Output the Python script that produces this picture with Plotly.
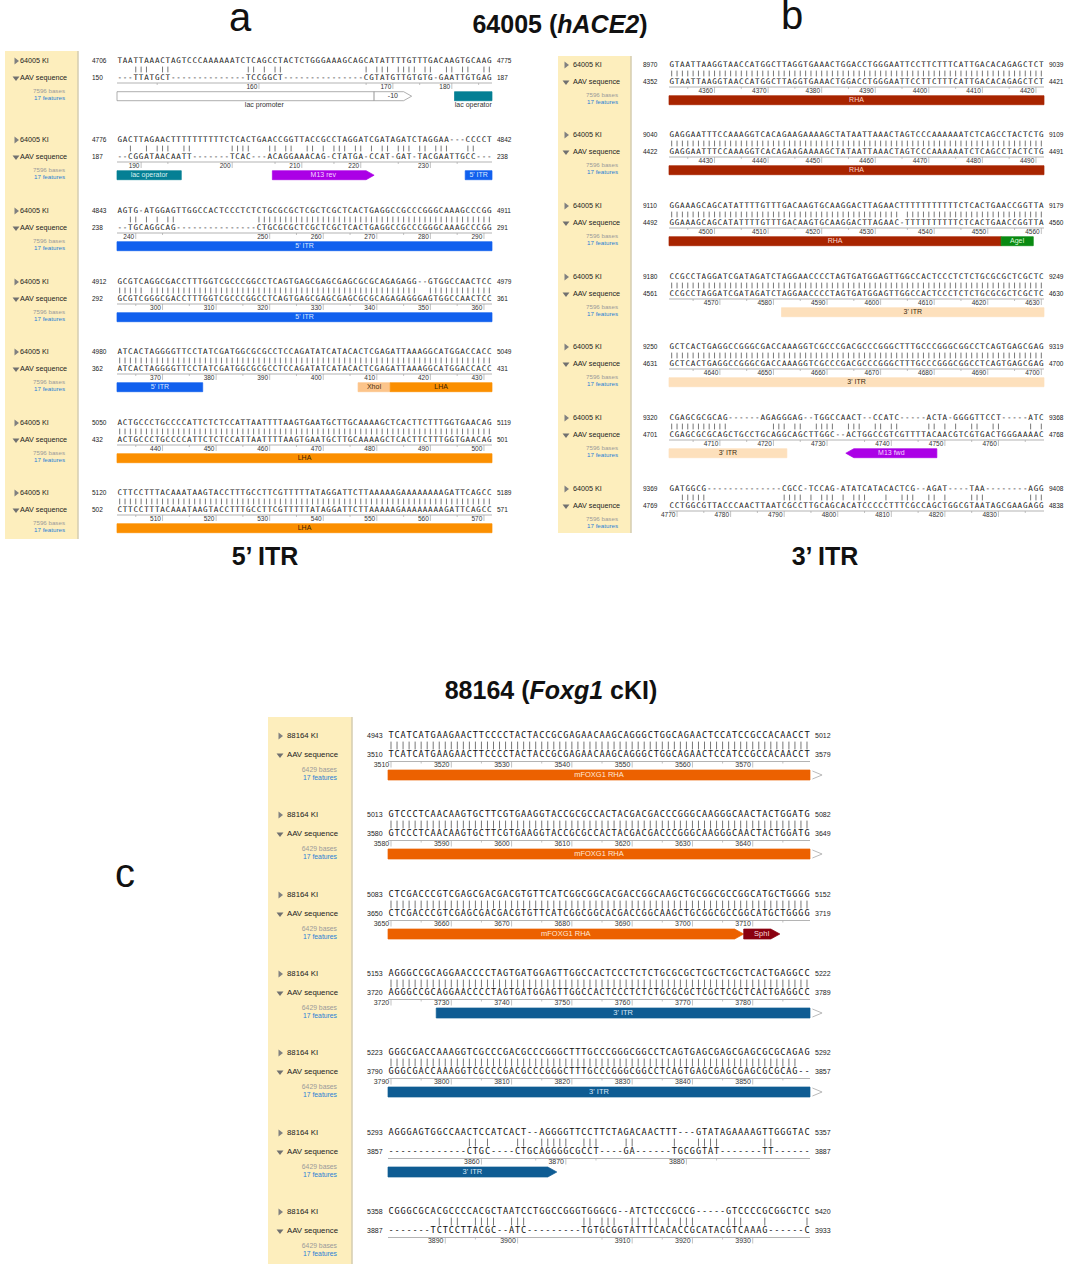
"""Recreate the aligned AAV sequence figure with Plotly."""

from __future__ import annotations

import plotly.graph_objects as go

# panel a: 64005 KI against the AAV sequence, 5' ITR end
A_QUERY = [
    "TAATTAAACTAGTCCCAAAAAATCTCAGCCTACTCTGGGAAAGCAGCATATTTTGTTTGACAAGTGCAAG",
    "GACTTAGAACTTTTTTTTTTCTCACTGAACCGGTTACCGCCTAGGATCGATAGATCTAGGAA---CCCCT",
    "AGTG-ATGGAGTTGGCCACTCCCTCTCTGCGCGCTCGCTCGCTCACTGAGGCCGCCCGGGCAAAGCCCGG",
    "GCGTCAGGCGACCTTTGGTCGCCCGGCCTCAGTGAGCGAGCGAGCGCGCAGAGAGG--GTGGCCAACTCC",
    "ATCACTAGGGGTTCCTATCGATGGCGCGCCTCCAGATATCATACACTCGAGATTAAAGGCATGGACCACC",
    "ACTGCCCTGCCCCATTCTCTCCATTAATTTTAAGTGAATGCTTGCAAAAGCTCACTTCTTTGGTGAACAG",
    "CTTCCTTTACAAATAAGTACCTTTGCCTTCGTTTTTATAGGATTCTTAAAAAGAAAAAAAAGATTCAGCC",
]
A_SUBJECT = [
    "---TTATGCT--------------TCCGGCT---------------CGTATGTTGTGTG-GAATTGTGAG",
    "--CGGATAACAATT-------TCAC---ACAGGAAACAG-CTATGA-CCAT-GAT-TACGAATTGCC---",
    "--TGCAGGCAG---------------CTGCGCGCTCGCTCGCTCACTGAGGCCGCCCGGGCAAAGCCCGG",
    "GCGTCGGGCGACCTTTGGTCGCCCGGCCTCAGTGAGCGAGCGAGCGCGCAGAGAGGGAGTGGCCAACTCC",
    "ATCACTAGGGGTTCCTATCGATGGCGCGCCTCCAGATATCATACACTCGAGATTAAAGGCATGGACCACC",
    "ACTGCCCTGCCCCATTCTCTCCATTAATTTTAAGTGAATGCTTGCAAAAGCTCACTTCTTTGGTGAACAG",
    "CTTCCTTTACAAATAAGTACCTTTGCCTTCGTTTTTATAGGATTCTTAAAAAGAAAAAAAAGATTCAGCC",
]
A_QUERY_START = [4706, 4776, 4843, 4912, 4980, 5050, 5120]
A_QUERY_END = [4775, 4842, 4911, 4979, 5049, 5119, 5189]
A_SUBJECT_START = [150, 187, 238, 292, 362, 432, 502]
A_SUBJECT_END = [187, 238, 291, 361, 431, 501, 571]
# block, label, first column, last column, colour, shape, label colour
A_FEATURES = [
    (0, "", 0, 48, "#ffffff", "box", "#333333"),
    (0, "-10", 48, 55, "#ffffff", "right", "#333333"),
    (0, "", 63, 70, "#047f94", "box", "#ffffff"),
    (1, "lac operator", 0, 12, "#047f94", "box", "#d8f0f0"),
    (1, "M13 rev", 29, 48, "#ab00e6", "right", "#f4d8ff"),
    (1, "5' ITR", 65, 70, "#1160ee", "box", "#dce8ff"),
    (2, "5' ITR", 0, 70, "#1160ee", "box", "#dce8ff"),
    (3, "5' ITR", 0, 70, "#1160ee", "box", "#dce8ff"),
    (4, "5' ITR", 0, 16, "#1160ee", "box", "#dce8ff"),
    (4, "XhoI", 45, 51, "#fcc48a", "box", "#4a3010"),
    (4, "LHA", 51, 70, "#fb8f00", "box", "#3a2000"),
    (5, "LHA", 0, 70, "#fb8f00", "box", "#3a2000"),
    (6, "LHA", 0, 70, "#fb8f00", "box", "#3a2000"),
]
# captions written under a feature: block, label, centre column
A_CAPTIONS = [(0, "lac promoter", 27.5), (0, "lac operator", 66.5)]

# panel b: 64005 KI against the AAV sequence, 3' ITR end
B_QUERY = [
    "GTAATTAAGGTAACCATGGCTTAGGTGAAACTGGACCTGGGAATTCCTTCTTTCATTGACACAGAGCTCT",
    "GAGGAATTTCCAAAGGTCACAGAAGAAAAGCTATAATTAAACTAGTCCCAAAAAATCTCAGCCTACTCTG",
    "GGAAAGCAGCATATTTTGTTTGACAAGTGCAAGGACTTAGAACTTTTTTTTTTTCTCACTGAACCGGTTA",
    "CCGCCTAGGATCGATAGATCTAGGAACCCCTAGTGATGGAGTTGGCCACTCCCTCTCTGCGCGCTCGCTC",
    "GCTCACTGAGGCCGGGCGACCAAAGGTCGCCCGACGCCCGGGCTTTGCCCGGGCGGCCTCAGTGAGCGAG",
    "CGAGCGCGCAG------AGAGGGAG--TGGCCAACT--CCATC-----ACTA-GGGGTTCCT-----ATC",
    "GATGGCG--------------CGCC-TCCAG-ATATCATACACTCG--AGAT----TAA--------AGG",
]
B_SUBJECT = [
    "GTAATTAAGGTAACCATGGCTTAGGTGAAACTGGACCTGGGAATTCCTTCTTTCATTGACACAGAGCTCT",
    "GAGGAATTTCCAAAGGTCACAGAAGAAAAGCTATAATTAAACTAGTCCCAAAAAATCTCAGCCTACTCTG",
    "GGAAAGCAGCATATTTTGTTTGACAAGTGCAAGGACTTAGAAC-TTTTTTTTTTCTCACTGAACCGGTTA",
    "CCGCCTAGGATCGATAGATCTAGGAACCCCTAGTGATGGAGTTGGCCACTCCCTCTCTGCGCGCTCGCTC",
    "GCTCACTGAGGCCGGGCGACCAAAGGTCGCCCGACGCCCGGGCTTTGCCCGGGCGGCCTCAGTGAGCGAG",
    "CGAGCGCGCAGCTGCCTGCAGGCAGCTTGGC--ACTGGCCGTCGTTTTACAACGTCGTGACTGGGAAAAC",
    "CCTGGCGTTACCCAACTTAATCGCCTTGCAGCACATCCCCCTTTCGCCAGCTGGCGTAATAGCGAAGAGG",
]
B_QUERY_START = [8970, 9040, 9110, 9180, 9250, 9320, 9369]
B_QUERY_END = [9039, 9109, 9179, 9249, 9319, 9368, 9408]
B_SUBJECT_START = [4352, 4422, 4492, 4561, 4631, 4701, 4769]
B_SUBJECT_END = [4421, 4491, 4560, 4630, 4700, 4768, 4838]
B_FEATURES = [
    (0, "RHA", 0, 70, "#a82400", "box", "#f8d8d0"),
    (1, "RHA", 0, 70, "#a82400", "box", "#f8d8d0"),
    (2, "RHA", 0, 62, "#a82400", "box", "#f8d8d0"),
    (2, "AgeI", 62, 68, "#0a8a12", "box", "#d8f8d8"),
    (3, "3' ITR", 21, 70, "#fde0bc", "box", "#3a2a10"),
    (4, "3' ITR", 0, 70, "#fde0bc", "box", "#3a2a10"),
    (5, "3' ITR", 0, 22, "#fde0bc", "box", "#3a2a10"),
    (5, "M13 fwd", 33, 50, "#ab00e6", "left", "#f4d8ff"),
]

# panel c: 88164 KI against the AAV sequence
C_QUERY = [
    "TCATCATGAAGAACTTCCCCTACTACCGCGAGAACAAGCAGGGCTGGCAGAACTCCATCCGCCACAACCT",
    "GTCCCTCAACAAGTGCTTCGTGAAGGTACCGCGCCACTACGACGACCCGGGCAAGGGCAACTACTGGATG",
    "CTCGACCCGTCGAGCGACGACGTGTTCATCGGCGGCACGACCGGCAAGCTGCGGCGCCGGCATGCTGGGG",
    "AGGGCCGCAGGAACCCCTAGTGATGGAGTTGGCCACTCCCTCTCTGCGCGCTCGCTCGCTCACTGAGGCC",
    "GGGCGACCAAAGGTCGCCCGACGCCCGGGCTTTGCCCGGGCGGCCTCAGTGAGCGAGCGAGCGCGCAGAG",
    "AGGGAGTGGCCAACTCCATCACT--AGGGGTTCCTTCTAGACAACTTT---GTATAGAAAAGTTGGGTAC",
    "CGGGCGCACGCCCCACGCTAATCCTGGCCGGGTGGGCG--ATCTCCCGCCG-----GTCCCCGCGGCTCC",
]
C_SUBJECT = [
    "TCATCATGAAGAACTTCCCCTACTACCGCGAGAACAAGCAGGGCTGGCAGAACTCCATCCGCCACAACCT",
    "GTCCCTCAACAAGTGCTTCGTGAAGGTACCGCGCCACTACGACGACCCGGGCAAGGGCAACTACTGGATG",
    "CTCGACCCGTCGAGCGACGACGTGTTCATCGGCGGCACGACCGGCAAGCTGCGGCGCCGGCATGCTGGGG",
    "AGGGCCGCAGGAACCCCTAGTGATGGAGTTGGCCACTCCCTCTCTGCGCGCTCGCTCGCTCACTGAGGCC",
    "GGGCGACCAAAGGTCGCCCGACGCCCGGGCTTTGCCCGGGCGGCCTCAGTGAGCGAGCGAGCGCGCAG--",
    "-------------CTGC----CTGCAGGGGCGCCT----GA------TGCGGTAT-------TT------",
    "-------TCTCCTTACGC--ATC---------TGTGCGGTATTTCACACCGCATACGTCAAAG------C",
]
C_QUERY_START = [4943, 5013, 5083, 5153, 5223, 5293, 5358]
C_QUERY_END = [5012, 5082, 5152, 5222, 5292, 5357, 5420]
C_SUBJECT_START = [3510, 3580, 3650, 3720, 3790, 3857, 3887]
C_SUBJECT_END = [3579, 3649, 3719, 3789, 3857, 3887, 3933]
C_FEATURES = [
    (0, "mFOXG1 RHA", 0, 70, "#ec6100", "box", "#ffe8d8"),
    (1, "mFOXG1 RHA", 0, 70, "#ec6100", "box", "#ffe8d8"),
    (2, "mFOXG1 RHA", 0, 59, "#ec6100", "right", "#ffe8d8"),
    (2, "SphI", 59, 65, "#8a0010", "right", "#f8d8d8"),
    (3, "3' ITR", 8, 70, "#0f5c93", "box", "#d8e8f8"),
    (4, "3' ITR", 0, 70, "#0f5c93", "box", "#d8e8f8"),
    (5, "3' ITR", 0, 28, "#0f5c93", "right", "#d8e8f8"),
]
C_CONTINUED = [0, 1, 3, 4]

SANS = "Liberation Sans"
MONO = "DejaVu Sans Mono"
WIDTH = 1065
HEIGHT = 1265


def first_base(start: int, subject: str) -> int:
    """A row opening on a gap is numbered by the base before the gap."""

    return start + 1 if subject.startswith("-") else start


def ruler_marks(start: int, subject: str) -> tuple[list[int], list[int], list[int]]:
    """Walk the subject row: return minor columns, major columns and their labels."""

    minor, major, labels = [], [], []
    pos = first_base(start, subject)
    for col, base in enumerate(subject):
        if base == "-":
            continue
        if pos % 10 == 0:
            major.append(col)
            labels.append(pos)
        elif pos % 5 == 0:
            minor.append(col)
        pos += 1
    return minor, major, labels


def text_trace(xs, ys, texts, axis, size, color, position="middle center", family=SANS):
    return go.Scatter(
        x=xs, y=ys, text=texts, xaxis=axis, yaxis="y", mode="text",
        textposition=position, textfont=dict(family=family, size=size, color=color),
        hoverinfo="skip", showlegend=False, cliponaxis=False,
    )


def line_trace(xs, ys, axis, color, width):
    return go.Scatter(
        x=xs, y=ys, xaxis=axis, yaxis="y", mode="lines",
        line=dict(color=color, width=width),
        hoverinfo="skip", showlegend=False,
    )


def feature_trace(start, end, top, bottom, color, shape, axis, head):
    mid = (top + bottom) / 2
    outline = "#8c8c8c" if color == "#ffffff" else color
    if shape == "right":
        xs = [start, end - head, end, end - head, start, start]
        ys = [top, top, mid, bottom, bottom, top]
    elif shape == "left":
        xs = [end, start + head, start, start + head, end, end]
        ys = [top, top, mid, bottom, bottom, top]
    else:
        xs = [start, end, end, start, start]
        ys = [top, top, bottom, bottom, top]
    return go.Scatter(
        x=xs, y=ys, xaxis=axis, yaxis="y", mode="lines", fill="toself", fillcolor=color,
        line=dict(color=outline, width=0.7), hoverinfo="skip", showlegend=False,
    )


def add_panel(fig, axis, query, subject, q_start, q_end, s_start, s_end, features, tops, opts):
    """Draw one alignment panel; columns run 0-70 on its own x axis."""

    # sidebar, on the page axis
    top_y, bottom_y = opts["side_y"]
    left, right = opts["side_x"]
    fig.add_trace(go.Scatter(
        x=[left, right, right, left, left], y=[top_y, top_y, bottom_y, bottom_y, top_y],
        xaxis="x4", yaxis="y", mode="lines", fill="toself", fillcolor="#fdeebd",
        line=dict(width=0), hoverinfo="skip", showlegend=False,
    ))
    fig.add_trace(line_trace([right, right], [top_y, bottom_y], "x4", "#d5cdb0", 1.5))

    seq2 = opts["seq2"]
    label_x = opts["label_x"]
    tri_x = opts["tri_x"]
    meta_x = opts["meta_x"]
    name = opts["name"]
    size = opts["label_size"]
    n = len(tops)
    fig.add_trace(go.Scatter(
        x=[tri_x] * n, y=tops, xaxis="x4", yaxis="y", mode="markers",
        marker=dict(symbol="triangle-right", size=6, color="#808080"),
        hoverinfo="skip", showlegend=False,
    ))
    fig.add_trace(go.Scatter(
        x=[tri_x] * n, y=[t + seq2 for t in tops], xaxis="x4", yaxis="y", mode="markers",
        marker=dict(symbol="triangle-down", size=6, color="#707070"),
        hoverinfo="skip", showlegend=False,
    ))
    fig.add_trace(text_trace([label_x] * n, tops, [name] * n, "x4", size, "#222222", "middle right"))
    fig.add_trace(text_trace(
        [label_x] * n, [t + seq2 for t in tops], ["AAV sequence"] * n, "x4", size, "#222222", "middle right",
    ))
    fig.add_trace(text_trace(
        [meta_x] * n, [t + opts["bases_dy"] for t in tops], [opts["bases"]] * n,
        "x4", size - 1, "#9a9a9a", "middle left",
    ))
    fig.add_trace(text_trace(
        [meta_x] * n, [t + opts["feat_dy"] for t in tops], ["17 features"] * n,
        "x4", size - 1, "#2a7fd6", "middle left",
    ))

    # row numbers
    num_size = opts["num_size"]
    fig.add_trace(text_trace(
        [opts["left_num"]] * n, tops, q_start, "x4", num_size, "#222222", "middle right",
    ))
    fig.add_trace(text_trace(
        [opts["left_num"]] * n, [t + seq2 for t in tops], s_start, "x4", num_size, "#222222", "middle right",
    ))
    fig.add_trace(text_trace(
        [opts["right_num"]] * n, tops, q_end, "x4", num_size, "#222222", "middle right",
    ))
    fig.add_trace(text_trace(
        [opts["right_num"]] * n, [t + seq2 for t in tops], s_end, "x4", num_size, "#222222", "middle right",
    ))

    # sequence letters, match bars, rulers
    xs, ys, letters = [], [], []
    bar_x, bar_y = [], []
    rule_x, rule_y = [], []
    tick_x, tick_y = [], []
    lab_x, lab_y, lab_text = [], [], []
    ruler = opts["ruler_dy"]
    for i, top in enumerate(tops):
        for col, (a, b) in enumerate(zip(query[i], subject[i])):
            xs += [col + 0.5, col + 0.5]
            ys += [top, top + seq2]
            letters += [a, b]
            if a == b and a != "-":
                bar_x += [col + 0.5, col + 0.5, None]
                bar_y += [top + 5.6, top + seq2 - 5.6, None]
        rule_x += [0, 70, None]
        rule_y += [top + ruler, top + ruler, None]
        minor, major, labels = ruler_marks(s_start[i], subject[i])
        for col in minor:
            tick_x += [col + 0.5, col + 0.5, None]
            tick_y += [top + ruler, top + ruler + 2, None]
        for col, label in zip(major, labels):
            tick_x += [col + 0.5, col + 0.5, None]
            tick_y += [top + ruler, top + ruler + 6, None]
            lab_x.append(col + 0.2)
            lab_y.append(top + ruler + opts["rule_num_dy"])
            lab_text.append(label)
    fig.add_trace(text_trace(xs, ys, letters, axis, opts["seq_size"], "#111111", family=MONO))
    fig.add_trace(line_trace(bar_x, bar_y, axis, "#3c3c3c", 0.7))
    fig.add_trace(line_trace(rule_x, rule_y, axis, "#b4b4b4", 1.2))
    fig.add_trace(line_trace(tick_x, tick_y, axis, "#a8a8a8", 0.7))
    fig.add_trace(text_trace(lab_x, lab_y, lab_text, axis, num_size, "#333333", "middle left"))

    # feature bars; the label goes in the middle of the straight part
    bar_top, bar_bottom = opts["bar_dy"]
    for block, label, start, end, color, shape, text_color in features:
        top = tops[block]
        fig.add_trace(feature_trace(
            start, end, top + bar_top, top + bar_bottom, color, shape, axis, opts["head"],
        ))
        if label:
            fig.add_trace(text_trace(
                [(start + end) / 2], [top + (bar_top + bar_bottom) / 2], [label],
                axis, opts["feat_size"], text_color,
            ))


def set_column_axis(fig, name, first_px, last_px, overlay=None):
    """Map column 0 and column 70 to these page pixels over the full page width."""

    per_col = (last_px - first_px) / 70
    fig.update_layout({name: dict(
        domain=[0, 1], range=[-first_px / per_col, (WIDTH - first_px) / per_col],
        visible=False, anchor="y", fixedrange=True, overlaying=overlay,
    )})


A_TOPS = [61, 140, 211, 282, 352, 423, 493]
B_TOPS = [65, 135, 206, 277, 347, 418, 489]
C_TOPS = [736, 815, 895, 974, 1053, 1133, 1212]

A_OPTS = dict(
    side_x=(5, 78), side_y=(51, 539), seq2=17, label_x=20, tri_x=16, meta_x=65, name="64005 KI",
    label_size=7.2, bases="7596 bases", bases_dy=30, feat_dy=37.7, num_size=6.5,
    left_num=92, right_num=497, ruler_dy=22, rule_num_dy=4, seq_size=7.6, bar_dy=(30.7, 39.7),
    head=1.5, feat_size=7,
)
B_OPTS = dict(A_OPTS, side_x=(558, 631), side_y=(56, 533), label_x=573, tri_x=566, meta_x=618,
              left_num=643, right_num=1049)
C_OPTS = dict(
    side_x=(268, 352), side_y=(717, 1264), seq2=19, label_x=287, tri_x=280, meta_x=337, name="88164 KI",
    label_size=7.8, bases="6429 bases", bases_dy=34, feat_dy=42, num_size=7,
    left_num=367, right_num=815, ruler_dy=25.5, rule_num_dy=3.5, seq_size=8.6, bar_dy=(34, 44),
    head=1.5, feat_size=7.5,
)

fig = go.Figure()
set_column_axis(fig, "xaxis", 117, 492)
set_column_axis(fig, "xaxis2", 669, 1044, "x")
set_column_axis(fig, "xaxis3", 388, 810, "x")
fig.update_layout(
    xaxis4=dict(domain=[0, 1], range=[0, WIDTH], visible=False, anchor="y", fixedrange=True, overlaying="x"),
    yaxis=dict(domain=[0, 1], range=[HEIGHT, 0], visible=False, fixedrange=True),
    width=WIDTH, height=HEIGHT, margin=dict(l=0, r=0, t=0, b=0),
    paper_bgcolor="white", plot_bgcolor="rgba(0,0,0,0)", showlegend=False,
)

add_panel(fig, "x", A_QUERY, A_SUBJECT, A_QUERY_START, A_QUERY_END, A_SUBJECT_START,
          A_SUBJECT_END, A_FEATURES, A_TOPS, A_OPTS)
add_panel(fig, "x2", B_QUERY, B_SUBJECT, B_QUERY_START, B_QUERY_END, B_SUBJECT_START,
          B_SUBJECT_END, B_FEATURES, B_TOPS, B_OPTS)
add_panel(fig, "x3", C_QUERY, C_SUBJECT, C_QUERY_START, C_QUERY_END, C_SUBJECT_START,
          C_SUBJECT_END, C_FEATURES, C_TOPS, C_OPTS)

# captions under the lac features in panel a
for block, label, col in A_CAPTIONS:
    fig.add_trace(text_trace([col], [A_TOPS[block] + 44], [label], "x", 7, "#333333"))

# grey chevrons where a feature runs on into the next row of panel c
for block in C_CONTINUED:
    top = C_TOPS[block]
    fig.add_trace(line_trace([70.4, 72, 70.4], [top + 35, top + 39, top + 43], "x3", "#a8a8a8", 0.8))

fig.add_trace(text_trace(
    [240, 792, 125], [21, 19, 877], ["a", "b", "c"], "x4", 40, "#111111",
))
fig.add_trace(text_trace(
    [560, 265, 825, 551],
    [27, 559, 559, 693],
    ["<b>64005 (<i>hACE2</i>)</b>", "<b>5’ ITR</b>", "<b>3’ ITR</b>", "<b>88164 (<i>Foxg1</i> cKI)</b>"],
    "x4", 25, "#111111",
))

fig.write_html("out.html", config={"displayModeBar": False}, post_script="document.body.style.margin='0';")
